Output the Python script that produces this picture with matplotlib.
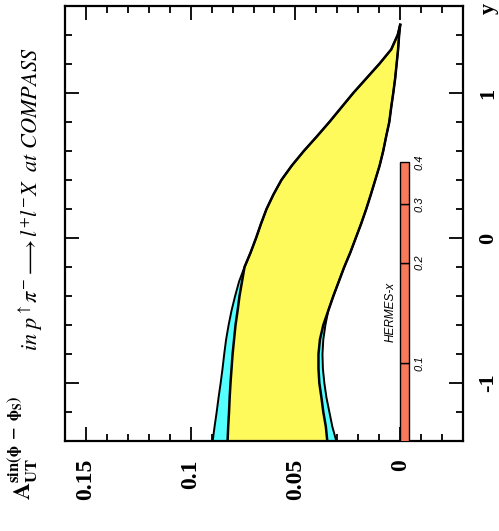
import matplotlib.pyplot as plt
import numpy as np
from matplotlib.ticker import MultipleLocator, FormatStrFormatter

plt.rcParams['mathtext.fontset'] = 'stix'
plt.rcParams['font.family'] = ['Liberation Serif', 'DejaVu Serif']
plt.rcParams['axes.unicode_minus'] = False

# rapidity grid and the band edges (asymmetry values)
rapidity = [-1.4, -1.3, -1.2, -1.1, -1.0, -0.9, -0.8, -0.7, -0.6, -0.5,
            -0.4, -0.3, -0.2, -0.1, 0.0, 0.1, 0.2, 0.3, 0.4, 0.5,
            0.6, 0.7, 0.8, 0.9, 1.0, 1.1, 1.2, 1.3, 1.4, 1.47]
# outer upper edge (cyan below y=-0.2, shared with yellow above)
a_upper = [0.0895, 0.0886, 0.0876, 0.0867, 0.0857, 0.0848, 0.0840, 0.0831, 0.0819, 0.0805,
           0.0788, 0.0769, 0.0743, 0.0714, 0.0688, 0.0664, 0.0638, 0.0605, 0.0567, 0.0517,
           0.0460, 0.0398, 0.0338, 0.0281, 0.0224, 0.0162, 0.0100, 0.0043, 0.0012, 0.0]
# yellow lower edge
a_lower = [0.0348, 0.0355, 0.0367, 0.0376, 0.0386, 0.0390, 0.0390, 0.0383, 0.0367, 0.0343,
           0.0319, 0.0293, 0.0267, 0.0238, 0.0212, 0.0186, 0.0162, 0.0140, 0.0119, 0.0098,
           0.0081, 0.0067, 0.0052, 0.0043, 0.0033, 0.0024, 0.0017, 0.0010, 0.0005, 0.0]
# yellow upper edge where it splits from the cyan one (y = -1.4 .. -0.2)
a_upper_inner = [0.0824, 0.0821, 0.0817, 0.0814, 0.0810, 0.0805, 0.0800, 0.0793, 0.0786, 0.0776,
                 0.0767, 0.0755, 0.0743]
# cyan lower edge where it splits from the yellow one (y = -1.4 .. -0.5)
a_lower_outer = [0.0305, 0.0324, 0.0338, 0.0352, 0.0362, 0.0369, 0.0371, 0.0367, 0.0357, 0.0343]

# HERMES x coverage, mapped onto rapidity
hermes_x = [0.05, 0.1, 0.2, 0.3, 0.4]
hermes_labels = ['0.1', '0.2', '0.3', '0.4']
hermes_shift = 1.44

cyan_lo = a_lower_outer + a_lower[len(a_lower_outer):]
yellow_hi = a_upper_inner + a_upper[len(a_upper_inner):]

fig = plt.figure(figsize=(4.99, 5.31), dpi=100)
ax = fig.add_axes([0.1303, 0.1695, 0.7976, 0.8192])

ax.fill_betweenx(rapidity, cyan_lo, a_upper, color='#55ffff', lw=0, zorder=1)
ax.fill_betweenx(rapidity, a_lower, yellow_hi, color='#fffa5c', lw=0, zorder=2)
for curve in (a_upper, cyan_lo):
    ax.plot(curve, rapidity, color='k', lw=1.4, zorder=3)
for curve in (yellow_hi, a_lower):
    ax.plot(curve, rapidity, color='k', lw=1.8, zorder=3)

hx = np.log(hermes_x) + hermes_shift
ax.bar(0, np.diff(hx), bottom=hx[:-1], width=-0.0044, align='edge',
       color='#f87a5a', edgecolor='k', lw=1.0, zorder=4)
for lab, r in zip(hermes_labels, hx[1:]):
    ax.text(-0.0092, r, lab, rotation=90, ha='center', va='center',
            fontsize=8, family='Liberation Sans', style='italic')
ax.text(0.0044, -0.51, 'HERMES-x', rotation=90, ha='center', va='center',
        fontsize=8.5, family='Liberation Sans', style='italic')

ax.set_xlim(0.16, -0.03)
ax.set_ylim(-1.4, 1.6)
ax.xaxis.set_major_locator(MultipleLocator(0.05))
ax.xaxis.set_minor_locator(MultipleLocator(0.01))
ax.yaxis.set_major_locator(MultipleLocator(1))
ax.yaxis.set_minor_locator(MultipleLocator(0.2))
ax.xaxis.set_major_formatter(FormatStrFormatter('%g'))
ax.yaxis.set_major_formatter(FormatStrFormatter('%g'))

ax.tick_params(which='both', direction='in', top=True, right=True, width=1.3,
               labelleft=False, labelright=True)
ax.tick_params(which='major', length=10)
ax.tick_params(which='minor', length=5)
ax.tick_params(axis='x', labelrotation=90, pad=13, labelsize=17)
ax.tick_params(axis='y', labelrotation=90, pad=11, labelsize=16)
for lbl in ax.get_xticklabels() + ax.get_yticklabels():
    lbl.set_fontweight('bold')
for lbl in ax.get_yticklabels():
    lbl.set_verticalalignment('center')
for sp in ax.spines.values():
    sp.set_linewidth(1.6)

fig.text(0.062, 0.625, r'$in\ p^{\uparrow}\pi^{-}\longrightarrow l^{+}l^{-}X\ \ at\ COMPASS$',
         rotation=90, ha='center', va='center', fontsize=16)
fig.text(0.046, 0.156, r'$\mathbf{A}_{\mathbf{UT}}^{\mathbf{sin(\phi\ -\ \phi_S)}}$',
         rotation=90, ha='center', va='center', fontsize=17)
fig.text(0.98, 0.984, 'y', rotation=90, ha='center', va='center',
         fontsize=16, fontweight='bold')

fig.savefig('out.png', dpi=100)
